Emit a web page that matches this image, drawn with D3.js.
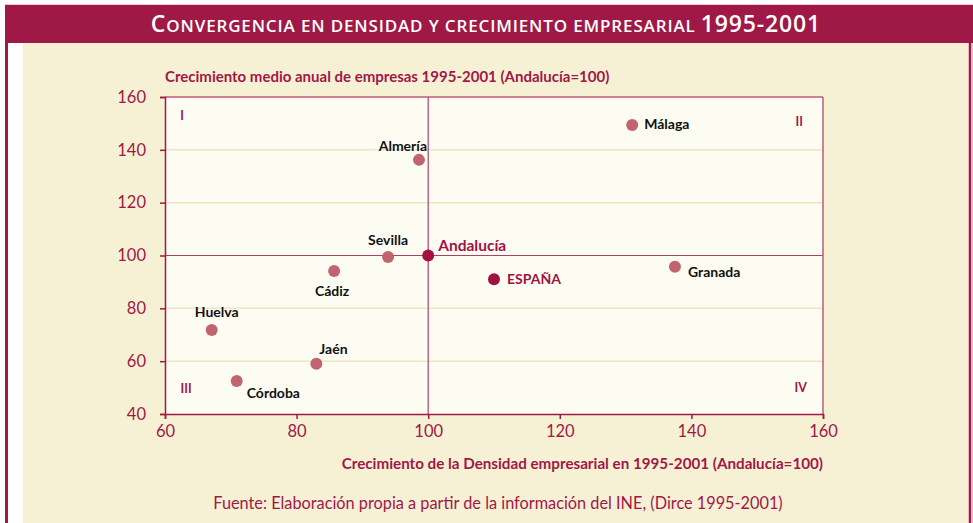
<!DOCTYPE html>
<html>
<head>
<meta charset="utf-8">
<script src="https://cdn.jsdelivr.net/npm/d3@7"></script>
<style>
  body { margin: 0; background: #fff; }
  svg { display: block; font-family: Lato, "Open Sans", sans-serif; }
</style>
</head>
<body>
<div id="chart"></div>
<script>
// chart data
let names = ['Almería', 'Málaga', 'Sevilla', 'Andalucía', 'Cádiz', 'ESPAÑA', 'Granada', 'Huelva', 'Jaén', 'Córdoba'];
let density = [98.6, 131, 93.9, 100, 85.7, 110, 137.5, 67.1, 83, 70.9];
let growth = [136.2, 149.4, 99.4, 100, 94.1, 91, 95.7, 71.8, 59, 52.5];
let xTicks = [60, 80, 100, 120, 140, 160];
let yTicks = [40, 60, 80, 100, 120, 140, 160];
let quadrants = ['I', 'II', 'III', 'IV'];

let width = 973;
let height = 523;
let maroon = '#A01846';
let rose = '#C0656F';

let xScale = d3.scaleLinear().domain([60, 160]).range([165, 823]);
let yScale = d3.scaleLinear().domain([40, 160]).range([414, 97]);

let svg = d3.select('#chart').append('svg')
    .attr('width', width)
    .attr('height', height);

// frame
svg.append('rect').attr('x', 0).attr('y', 0).attr('width', width).attr('height', height).attr('fill', '#fff');
svg.append('rect').attr('x', 5).attr('y', 43).attr('width', 3).attr('height', height - 43).attr('fill', maroon);
svg.append('rect').attr('x', 23).attr('y', 43).attr('width', 945).attr('height', height - 43).attr('fill', '#F6F1D5');
svg.append('rect').attr('x', 968).attr('y', 43).attr('width', 5).attr('height', height - 43).attr('fill', '#E9B9C6');
svg.append('rect').attr('x', 969).attr('y', 43).attr('width', 2).attr('height', height - 43).attr('fill', maroon);
svg.append('rect').attr('x', 5).attr('y', 4).attr('width', width - 5).attr('height', 1).attr('fill', '#EBC7D2');
svg.append('rect').attr('x', 5).attr('y', 5).attr('width', width - 5).attr('height', 38).attr('fill', maroon);

// title in small caps
let title = svg.append('text')
    .attr('x', 486)
    .attr('y', 32)
    .attr('text-anchor', 'middle')
    .attr('fill', '#fff')
    .attr('font-weight', 600)
    .attr('letter-spacing', 0.85)
    .style('font-family', '"Open Sans", sans-serif');
title.append('tspan').attr('font-size', 23).text('C');
title.append('tspan').attr('font-size', 17).text('ONVERGENCIA EN DENSIDAD Y CRECIMIENTO EMPRESARIAL ');
title.append('tspan').attr('font-size', 23).text('1995-2001');

// plot background
svg.append('rect')
    .attr('x', xScale(60))
    .attr('y', yScale(160))
    .attr('width', xScale(160) - xScale(60))
    .attr('height', yScale(40) - yScale(160))
    .attr('fill', '#FDFCF3');

// horizontal gridlines
svg.append('g').selectAll('line')
    .data(yTicks.filter(d => d !== 40 && d !== 100 && d !== 160))
    .enter().append('line')
    .attr('x1', xScale(60)).attr('x2', xScale(160))
    .attr('y1', d => yScale(d)).attr('y2', d => yScale(d))
    .attr('stroke', '#EEE6BE')
    .attr('stroke-width', 1.5);

// reference lines at 100
svg.append('line')
    .attr('x1', xScale(60)).attr('x2', xScale(160))
    .attr('y1', yScale(100)).attr('y2', yScale(100))
    .attr('stroke', '#AC4166').attr('stroke-width', 1.2);
svg.append('line')
    .attr('x1', xScale(100)).attr('x2', xScale(100))
    .attr('y1', yScale(40)).attr('y2', yScale(160))
    .attr('stroke', '#AC4166').attr('stroke-width', 1.2);

// top and right border
svg.append('line')
    .attr('x1', xScale(60)).attr('x2', xScale(160))
    .attr('y1', yScale(160)).attr('y2', yScale(160))
    .attr('stroke', '#C0587A').attr('stroke-width', 1.5);
svg.append('line')
    .attr('x1', xScale(160)).attr('x2', xScale(160))
    .attr('y1', yScale(160)).attr('y2', yScale(40))
    .attr('stroke', '#C0587A').attr('stroke-width', 1.5);

// axes
let xAxis = svg.append('g')
    .attr('transform', `translate(0,${yScale(40)})`)
    .call(d3.axisBottom(xScale).tickValues(xTicks).tickSize(5).tickPadding(6));
let yAxis = svg.append('g')
    .attr('transform', `translate(${xScale(60)},0)`)
    .call(d3.axisLeft(yScale).tickValues(yTicks).tickSize(5).tickPadding(14));

[xAxis, yAxis].forEach(ax => {
    ax.select('.domain').attr('stroke', maroon).attr('stroke-width', 1.5);
    ax.selectAll('.tick line').attr('stroke', maroon).attr('stroke-width', 1.5);
    ax.selectAll('.tick text')
        .attr('fill', maroon)
        .attr('font-size', 16.5)
        .style('font-family', 'Lato, sans-serif');
});

// axis titles
svg.append('text')
    .attr('x', 165)
    .attr('y', 82)
    .attr('fill', maroon)
    .attr('font-size', 15)
    .attr('font-weight', 700)
    .text('Crecimiento medio anual de empresas 1995-2001 (Andalucía=100)');

svg.append('text')
    .attr('x', 823)
    .attr('y', 469)
    .attr('text-anchor', 'end')
    .attr('fill', maroon)
    .attr('font-size', 15.2)
    .attr('font-weight', 700)
    .text('Crecimiento de la Densidad empresarial en 1995-2001 (Andalucía=100)');

svg.append('text')
    .attr('x', 498)
    .attr('y', 509)
    .attr('text-anchor', 'middle')
    .attr('fill', maroon)
    .attr('font-size', 16.3)
    .text('Fuente: Elaboración propia a partir de la información del INE, (Dirce 1995-2001)');

// quadrant labels
let quadPos = [[62.6, 151.3], [156.4, 149], [63.2, 48], [156.6, 48.3]];
svg.append('g').selectAll('text')
    .data(quadrants)
    .enter().append('text')
    .attr('x', (d, i) => xScale(quadPos[i][0]))
    .attr('y', (d, i) => yScale(quadPos[i][1]))
    .attr('fill', maroon)
    .attr('font-size', 12.5)
    .attr('font-weight', 700)
    .attr('text-anchor', 'middle')
    .text(d => d);

// label placement offsets (px) relative to each point
let labelOffsets = {
    'Almería': [8, -9, 'end'],
    'Málaga': [12, 4, 'start'],
    'Sevilla': [0, -12, 'middle'],
    'Andalucía': [10, -5, 'start'],
    'Cádiz': [-2, 25, 'middle'],
    'ESPAÑA': [13, 5, 'start'],
    'Granada': [13, 10, 'start'],
    'Huelva': [5, -13, 'middle'],
    'Jaén': [3, -10, 'start'],
    'Córdoba': [10, 17, 'start']
};
let highlight = ['Andalucía', 'ESPAÑA'];

let points = names.map((n, i) => ({name: n, x: density[i], y: growth[i]}));

let pts = svg.append('g').selectAll('g')
    .data(points)
    .enter().append('g')
    .attr('transform', d => `translate(${xScale(d.x)},${yScale(d.y)})`);

pts.append('circle')
    .attr('r', 6)
    .attr('fill', d => highlight.includes(d.name) ? '#A2123F' : rose);

pts.append('text')
    .attr('x', d => labelOffsets[d.name][0])
    .attr('y', d => labelOffsets[d.name][1])
    .attr('text-anchor', d => labelOffsets[d.name][2])
    .attr('font-size', d => d.name === 'Andalucía' ? 15.5 : 14)
    .attr('font-weight', 700)
    .attr('fill', d => highlight.includes(d.name) ? '#A2123F' : '#111')
    .text(d => d.name);
</script>
</body>
</html>
